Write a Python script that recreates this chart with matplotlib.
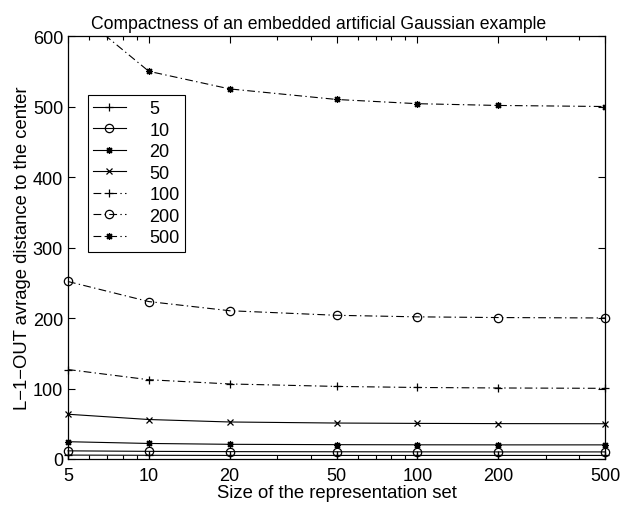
import matplotlib
matplotlib.use("Agg")
import matplotlib.pyplot as plt
from matplotlib.ticker import FixedLocator, FixedFormatter, LogLocator, NullFormatter

# representation set sizes (x) and one series per training set size
rep_sizes = [5, 10, 20, 50, 100, 200, 500]
labels = ["5", "10", "20", "50", "100", "200", "500"]
dist_5 = [5.5, 5.2, 5.0, 5.0, 5.0, 5.0, 5.0]
dist_10 = [11.5, 10.8, 10.4, 10.2, 10.1, 10.0, 10.0]
dist_20 = [24.5, 22.0, 20.8, 20.3, 20.1, 20.0, 20.0]
dist_50 = [63.5, 56.0, 52.5, 51.0, 50.5, 50.2, 50.0]
dist_100 = [127.0, 112.5, 106.5, 103.0, 101.5, 100.8, 100.3]
dist_200 = [252.0, 223.5, 210.5, 204.0, 201.8, 200.8, 200.2]
dist_500 = [645.0, 550.5, 525.5, 510.5, 504.5, 502.0, 500.5]

series = [dist_5, dist_10, dist_20, dist_50, dist_100, dist_200, dist_500]
asterisk = (8, 2, 0)   # matlab-style '*' (plus and cross overlaid)
markers = ["+", "o", asterisk, "x", "+", "o", asterisk]
dashdot = (0, (7, 3, 1.2, 3))
styles = ["-", "-", "-", "-", dashdot, dashdot, dashdot]
sizes = [6, 6, 5, 4.5, 6, 6, 5]

plt.rcParams["font.family"] = ["Liberation Sans", "DejaVu Sans"]

fig = plt.figure(figsize=(6.35, 5.06), dpi=100)
ax = fig.add_axes([0.107, 0.091, 0.846, 0.835])

for y, m, ls, ms, lab in zip(series, markers, styles, sizes, labels):
    ax.plot(rep_sizes, y, color="black", linestyle=ls, linewidth=0.8,
            marker=m, markersize=ms, markerfacecolor="none",
            markeredgecolor="black", markeredgewidth=0.9, label=lab,
            clip_on=(lab == "500"))

ax.set_xscale("log")
ax.set_xlim(5, 500)
ax.set_ylim(0, 600)
ax.xaxis.set_major_locator(FixedLocator(rep_sizes))
ax.xaxis.set_major_formatter(FixedFormatter(labels))
ax.xaxis.set_minor_locator(LogLocator(base=10, subs=range(2, 10)))
ax.xaxis.set_minor_formatter(NullFormatter())
ax.set_yticks(range(0, 601, 100))

ax.tick_params(which="both", direction="in", top=True, right=True,
               labelsize=13, width=0.8)
ax.tick_params(which="major", length=5)
ax.tick_params(which="minor", length=3)
ax.tick_params(axis="x", pad=6)
for s in ax.spines.values():
    s.set_linewidth(0.9)

ax.set_title("Compactness of an embedded artificial Gaussian example",
             fontsize=12.7, pad=6, x=0.466)
ax.set_xlabel("Size of the representation set", fontsize=13.3, labelpad=0)
ax.set_ylabel("L\u22121\u2212OUT avrage distance to the center", fontsize=13.3,
              labelpad=1)

leg = ax.legend(loc="upper left", bbox_to_anchor=(0.037, 0.862),
                fontsize=13, handlelength=1.8, handletextpad=1.3,
                borderpad=0.3, labelspacing=0.25, borderaxespad=0,
                fancybox=False, framealpha=1, edgecolor="black")
leg.get_frame().set_linewidth(0.8)

fig.savefig("out.png", dpi=100)
